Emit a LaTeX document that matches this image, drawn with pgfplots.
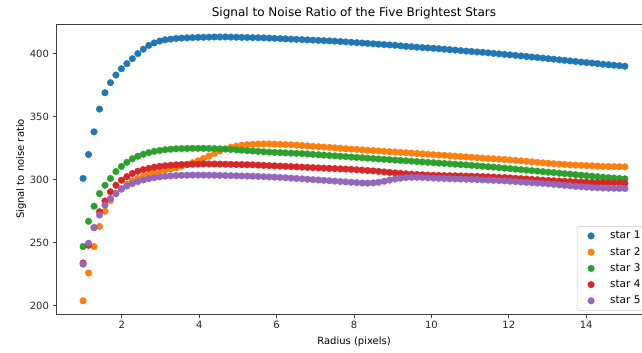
\documentclass[border=0pt]{standalone}
\usepackage{fontspec}
\setmainfont{DejaVu Sans}
\usepackage{pgfplots}
\usepackage{pgfplotstable}
\pgfplotsset{compat=1.18}
\definecolor{c1}{HTML}{1F77B4}
\definecolor{c2}{HTML}{FF7F0E}
\definecolor{c3}{HTML}{2CA02C}
\definecolor{c4}{HTML}{D62728}
\definecolor{c5}{HTML}{9467BD}
\pgfplotstableread{
x s1 s2 s3 s4 s5
1.000 301 204 247 234 233
1.141 320 226 267 248 249.6
1.283 338 247 279 262 262
1.424 356 263 289 274.6 272
1.566 369 275 295.6 283.2 280
1.707 377 283.5 301 290.4 285
1.848 383 289 306.5 295.6 289
1.990 388 293 310.5 299.6 292.5
2.131 392 296.5 313.8 302.4 295
2.273 396 299 316.6 304.9 297
2.414 400 301 318.6 306.7 298.6
2.556 403.5 302.7 320.2 308.0 299.8
2.697 406.5 304 321.5 309.0 300.8
2.838 408.5 305.3 322.5 309.9 301.6
2.980 410 306.5 323.2 310.6 302.2
3.121 411 307.5 323.8 311.1 302.7
3.263 411.5 308.5 324.2 311.5 303.0
3.404 412 309.5 324.5 311.8 303.3
3.545 412.3 310.7 324.7 312.0 303.5
3.687 412.5 312 324.8 312.2 303.6
3.828 412.7 313.5 324.9 312.3 303.7
3.970 412.9 315.0 324.9 312.4 303.7
4.111 413 316.8 324.9 312.5 303.7
4.253 413.1 318.8 324.8 312.5 303.6
4.394 413.2 320.8 324.7 312.5 303.5
4.535 413.2 322.8 324.5 312.4 303.4
4.677 413.2 324.5 324.3 312.3 303.3
4.818 413.1 325.8 324.0 312.2 303.2
4.960 413 326.7 323.7 312.1 303.1
5.101 412.9 327.3 323.4 312.0 303.0
5.242 412.8 327.8 323.1 311.9 302.9
5.384 412.7 328.1 322.8 311.8 302.8
5.525 412.6 328.3 322.5 311.6 302.6
5.667 412.5 328.4 322.2 311.4 302.4
5.808 412.3 328.4 321.9 311.2 302.2
5.949 412.1 328.3 321.7 311.0 302.0
6.091 411.9 328.1 321.5 310.8 301.8
6.232 411.7 327.9 321.3 310.6 301.6
6.374 411.5 327.7 321.1 310.4 301.3
6.515 411.3 327.4 320.9 310.2 301.0
6.657 411.1 327.1 320.7 310.0 300.7
6.798 410.9 326.8 320.4 309.8 300.4
6.939 410.7 326.5 320.1 309.6 300.1
7.081 410.5 326.2 319.8 309.4 299.8
7.222 410.3 325.9 319.5 309.2 299.5
7.364 410.1 325.6 319.2 309.0 299.2
7.505 409.9 325.3 318.9 308.8 298.9
7.646 409.6 325.0 318.6 308.6 298.6
7.788 409.3 324.6 318.3 308.4 298.3
7.929 409.0 324.3 318.0 308.2 298.0
8.071 408.7 324.0 317.7 307.9 297.7
8.212 408.4 323.7 317.4 307.6 297.4
8.354 408.1 323.4 317.1 307.3 297.3
8.495 407.8 323.1 316.8 307.0 297.5
8.636 407.5 322.8 316.5 306.6 298.0
8.778 407.2 322.5 316.2 306.2 298.8
8.919 406.9 322.2 315.9 305.8 299.7
9.061 406.6 322.0 315.6 305.4 300.5
9.202 406.2 321.7 315.3 305.0 301.2
9.343 405.8 321.4 315.0 304.7 301.7
9.485 405.5 321.1 314.7 304.4 301.9
9.626 405.1 320.8 314.4 304.1 301.9
9.768 404.8 320.5 314.1 303.9 301.7
9.909 404.5 320.2 313.8 303.7 301.5
10.051 404.2 319.9 313.5 303.5 301.3
10.192 403.9 319.6 313.2 303.4 301.1
10.333 403.5 319.3 312.9 303.3 300.9
10.475 403.1 319.0 312.6 303.2 300.7
10.616 402.8 318.7 312.3 303.1 300.6
10.758 402.4 318.4 312.0 303.0 300.5
10.899 402.0 318.1 311.7 302.9 300.4
11.040 401.7 317.8 311.4 302.8 300.3
11.182 401.3 317.5 311.0 302.7 300.1
11.323 401.0 317.2 310.7 302.5 299.9
11.465 400.6 316.9 310.3 302.3 299.7
11.606 400.2 316.6 310.0 302.1 299.5
11.747 399.8 316.3 309.6 301.9 299.3
11.889 399.4 316.0 309.2 301.7 299.1
12.030 399.0 315.7 308.8 301.5 298.8
12.172 398.6 315.3 308.4 301.2 298.5
12.313 398.2 315.0 308.0 300.9 298.2
12.455 397.8 314.6 307.6 300.6 297.9
12.596 397.3 314.2 307.2 300.3 297.6
12.737 396.9 313.8 306.8 300.0 297.3
12.879 396.5 313.4 306.4 299.7 297.0
13.020 396.0 313.0 306.0 299.4 296.7
13.162 395.6 312.7 305.6 299.2 296.3
13.303 395.1 312.4 305.2 299.0 295.9
13.444 394.7 312.1 304.8 298.8 295.5
13.586 394.2 311.8 304.4 298.6 295.1
13.727 393.8 311.6 304.0 298.4 294.7
13.869 393.3 311.4 303.6 298.2 294.4
14.010 392.9 311.2 303.2 298.0 294.1
14.152 392.5 311.0 302.8 297.9 293.8
14.293 392.1 310.8 302.4 297.8 293.6
14.434 391.6 310.6 302.0 297.7 293.4
14.576 391.2 310.5 301.6 297.6 293.3
14.717 390.8 310.4 301.3 297.5 293.2
14.859 390.4 310.3 301.0 297.4 293.1
15.000 390.0 310.2 300.7 297.3 293.0
}\datatable
\begin{document}
\begin{tikzpicture}
\useasboundingbox (-56pt,-39pt) rectangle (586pt,314pt);
\begin{axis}[
  at={(0,0)}, anchor=south west,
  scale only axis, width=596pt, height=290pt,
  xmin=0.3, xmax=15.7, ymin=193.5, ymax=423.5,
  xtick={2,4,...,14}, ytick={200,250,...,400},
  xtick pos=bottom, ytick pos=left,
  tick align=outside, major tick length=3.5pt,
  every tick/.style={black!75, line width=0.8pt},
  axis line style={black!75, line width=0.8pt},
  /pgf/number format/assume math mode=true,
  ticklabel style={font=\fontsize{10}{12}\selectfont, text=black!85},
  xlabel={Radius (pixels)}, ylabel={Signal to noise ratio},
  label style={font=\fontsize{10}{12}\selectfont},
  xlabel style={yshift=-1pt},
  ylabel style={yshift=-3pt},
  title={Signal to Noise Ratio of the Five Brightest Stars},
  title style={font=\fontsize{12}{14}\selectfont, yshift=-5pt},
  legend style={at={(0.874,0.303)}, anchor=north west, draw=black!20,
    rounded corners=2pt, font=\fontsize{10.5}{12}\selectfont,
    row sep=3pt, inner xsep=4pt, inner ysep=3pt,
    nodes={inner xsep=5pt}},
  legend image code/.code={%
    \path[draw=none, fill=none] (0pt,0pt) -- (24pt,0pt);
    \draw[#1, only marks, mark repeat=1] plot coordinates {(10pt,0pt)};},
  legend cell align=left,
  mark size=3.3pt,
]
\addplot[only marks, mark=*, color=c1, mark options={draw=c1, fill=c1}] table[x=x, y=s1] {\datatable};
\addlegendentry{star 1}
\addplot[only marks, mark=*, color=c2, mark options={draw=c2, fill=c2}] table[x=x, y=s2] {\datatable};
\addlegendentry{star 2}
\addplot[only marks, mark=*, color=c3, mark options={draw=c3, fill=c3}] table[x=x, y=s3] {\datatable};
\addlegendentry{star 3}
\addplot[only marks, mark=*, color=c4, mark options={draw=c4, fill=c4}] table[x=x, y=s4] {\datatable};
\addlegendentry{star 4}
\addplot[only marks, mark=*, color=c5, mark options={draw=c5, fill=c5}] table[x=x, y=s5] {\datatable};
\addlegendentry{star 5}
\end{axis}
\end{tikzpicture}
\end{document}
